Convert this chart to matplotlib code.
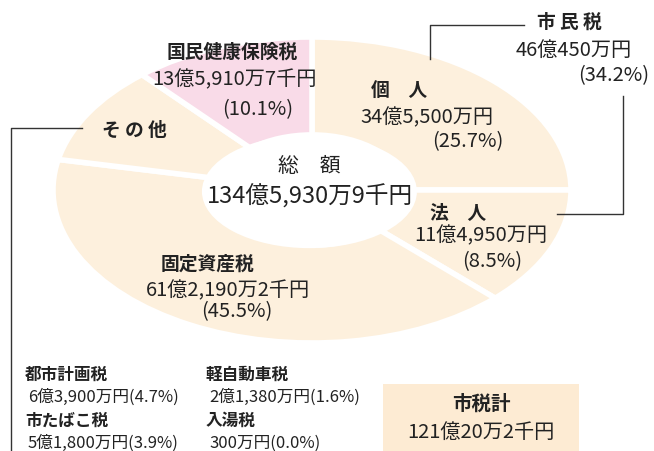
import matplotlib
matplotlib.use("Agg")
import matplotlib.pyplot as plt
from matplotlib.patches import Rectangle, Ellipse

plt.rcParams['font.family'] = ['Noto Sans CJK JP', 'DejaVu Sans']

# 市税の内訳 (ドーナツの各部分)
names = ['個　人', '法　人', '固定資産税', 'そ の 他', '国民健康保険税']
amounts = ['34億5,500万円', '11億4,950万円', '61億2,190万2千円', '', '13億5,910万7千円']
shares = [25.7, 8.5, 45.5, 10.2, 10.1]
# 図の上で描かれている扇形の大きさ (%)
drawn_share = [25.0, 12.5, 40.7, 10.4, 11.4]
colors = ['#fdf0dd', '#fdf0dd', '#fdf0dd', '#fdf0dd', '#f9dbe8']

total_label = '134億5,930万9千円'
shiminzei = ['市 民 税', '46億450万円', '(34.2%)']

other_names = ['都市計画税', '市たばこ税', '軽自動車税', '入湯税']
other_amounts = ['6億3,900万円(4.7%)', '5億1,800万円(3.9%)', '2億1,380万円(1.6%)', '300万円(0.0%)']
city_total = ['市税計', '121億20万2千円']

W, H = 654, 452
fig = plt.figure(figsize=(W / 100, H / 100), dpi=100)

# ドーナツ (横長の楕円)
ax = fig.add_axes([53 / W, (H - 344) / H, 518 / W, 306 / H])
ax.pie(drawn_share, colors=colors, startangle=90, counterclock=False, radius=1,
       wedgeprops=dict(width=0.64, edgecolor='white', linewidth=4))
# 真ん中の穴
ax.add_patch(Ellipse((-0.01, -0.01), 0.83, 0.74, facecolor='white', edgecolor='none', zorder=3))
ax.set_aspect('auto')
ax.set_xlim(-1, 1)
ax.set_ylim(-1, 1)
ax.axis('off')

# 文字と線は画素座標で置く
ov = fig.add_axes([0, 0, 1, 1], zorder=5)
ov.set_xlim(0, W)
ov.set_ylim(H, 0)
ov.axis('off')
ov.patch.set_alpha(0)

tc = '#222222'
lc = '#333333'

def put(x, y, s, size=14.5, bold=False, ha='center'):
    ov.text(x, y, s, fontsize=size, fontweight='bold' if bold else 'normal',
            ha=ha, va='center', color=tc)

# 中央
put(309, 166, '総　額', 15)
put(310, 196, total_label, 17)

# 各扇形のラベル
name_pos = [(399, 90), (458, 214), (207, 264), (134, 130), (232, 52)]
amt_pos = [(427, 118), (481, 236), (228, 291), None, (234, 80)]
pct_pos = [(468, 142), (492, 262), (237, 312), None, (258, 110)]
for i in range(len(names)):
    put(name_pos[i][0], name_pos[i][1], names[i], 13.5, bold=True)
    if amt_pos[i] is not None:
        put(amt_pos[i][0], amt_pos[i][1], amounts[i], 14.5)
        put(pct_pos[i][0], pct_pos[i][1], '(%.1f%%)' % shares[i], 14.5)

# 市民税
put(569, 22, shiminzei[0], 13.5, bold=True)
put(574, 50, shiminzei[1], 14.5)
put(614, 76, shiminzei[2], 14.5)

# 引き出し線
ov.plot([430, 430, 524], [60, 26, 26], color=lc, lw=1)
ov.plot([623, 623, 557], [97, 215, 215], color=lc, lw=1)
ov.plot([82, 11, 11], [129, 129, 452], color=lc, lw=1)

# その他の内訳
other_x = [25, 25, 206, 206]
other_y = [375, 421, 375, 421]
for i in range(len(other_names)):
    put(other_x[i], other_y[i], other_names[i], 12, bold=True, ha='left')
    put(other_x[i] + 3, other_y[i] + 22, other_amounts[i], 12, ha='left')

# 市税計
ov.add_patch(Rectangle((383, 385), 196, 70, facecolor='#fdebd3', edgecolor='none'))
put(481, 404, city_total[0], 14, bold=True)
put(481, 432, city_total[1], 14.5)

fig.savefig('out.png', dpi=100)
